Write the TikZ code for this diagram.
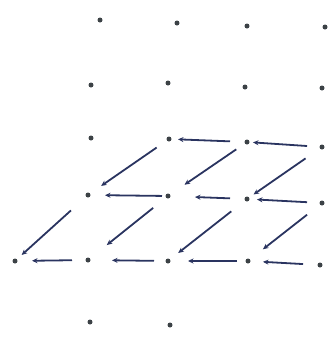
\documentclass[tikz,border=0pt]{standalone}
\usetikzlibrary{arrows.meta}
\definecolor{dotc}{RGB}{60,66,70}
\definecolor{arrc}{RGB}{42,52,96}
\tikzset{
  dot/.style={circle,fill=dotc,inner sep=0pt,minimum size=5pt},
  arr/.style={draw=arrc,line width=1.8pt,-{Stealth[length=5.5pt,width=5pt]}},
}
\begin{document}
\begin{tikzpicture}[x=1pt,y=-1pt]
\useasboundingbox (0,0) rectangle (330,338);
% row 1
\node[dot] (a1) at (100,20) {};
\node[dot] (a2) at (177,23) {};
\node[dot] (a3) at (247,26) {};
\node[dot] (a4) at (325,27) {};
% row 2
\node[dot] (b1) at (91,85) {};
\node[dot] (b2) at (168,83) {};
\node[dot] (b3) at (245,87) {};
\node[dot] (b4) at (322,88) {};
% row 3
\node[dot] (c1) at (91,138) {};
\node[dot] (c2) at (169,139) {};
\node[dot] (c3) at (247,142) {};
\node[dot] (c4) at (322,147) {};
% row 4
\node[dot] (d1) at (88,195) {};
\node[dot] (d2) at (168,196) {};
\node[dot] (d3) at (247,199) {};
\node[dot] (d4) at (322,203) {};
% row 5
\node[dot] (e0) at (15,261) {};
\node[dot] (e1) at (88,260) {};
\node[dot] (e2) at (168,261) {};
\node[dot] (e3) at (248,261) {};
\node[dot] (e4) at (320,265) {};
% row 6
\node[dot] (f1) at (90,322) {};
\node[dot] (f2) at (170,325) {};
% horizontal arrows
\draw[arr,shorten <=17pt,shorten >=9pt] (c3.center) -- (c2.center);
\draw[arr,shorten <=15pt,shorten >=6pt] (c4.center) -- (c3.center);
\draw[arr,shorten <=6pt,shorten >=17pt] (d2.center) -- (d1.center);
\draw[arr,shorten <=17pt,shorten >=27pt] (d3.center) -- (d2.center);
\draw[arr,shorten <=15pt,shorten >=10pt] (d4.center) -- (d3.center);
\draw[arr,shorten <=16pt,shorten >=17pt] (e1.center) -- (e0.center);
\draw[arr,shorten <=14pt,shorten >=24pt] (e2.center) -- (e1.center);
\draw[arr,shorten <=11pt,shorten >=20pt] (e3.center) -- (e2.center);
\draw[arr,shorten <=17pt,shorten >=15pt] (e4.center) -- (e3.center);
% diagonal arrows
\draw[arr,shorten <=15pt,shorten >=16pt] (c2.center) -- (d1.center);
\draw[arr,shorten <=13pt,shorten >=20pt] (c3.center) -- (d2.center);
\draw[arr,shorten <=20pt,shorten >=8pt] (c4.center) -- (d3.center);
\draw[arr,shorten <=23pt,shorten >=9pt] (d1.center) -- (e0.center);
\draw[arr,shorten <=19pt,shorten >=24pt] (d2.center) -- (e1.center);
\draw[arr,shorten <=20pt,shorten >=13pt] (d3.center) -- (e2.center);
\draw[arr,shorten <=19pt,shorten >=19pt] (d4.center) -- (e3.center);
\end{tikzpicture}
\end{document}
